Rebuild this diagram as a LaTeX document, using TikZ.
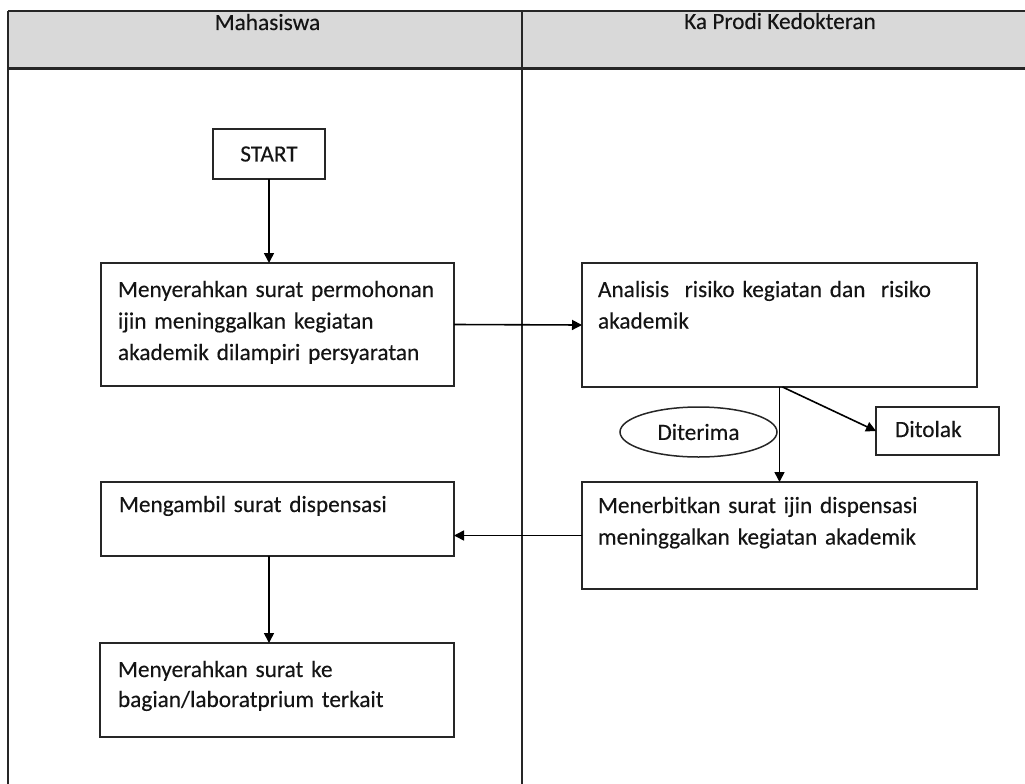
\documentclass[tikz,border=0pt]{standalone}
\usepackage{fontspec}
\setmainfont{Carlito}[UprightFeatures={FakeBold=0.25}]
\usetikzlibrary{arrows.meta,shapes.geometric}
\definecolor{rule}{HTML}{262626}
\definecolor{headfill}{HTML}{D9D9D9}
\definecolor{ink}{HTML}{141414}
\begin{document}
\begin{tikzpicture}[x=1pt,y=-1pt,
  every node/.style={inner sep=0pt, outer sep=0pt, text=ink},
  body/.style={font=\fontsize{23.3}{31.5}\selectfont},
  txt/.style={body, anchor=base west, align=left, text width=#1},
  head/.style={body, anchor=base},
  stepbox/.style={draw=rule, line width=2pt, fill=white, minimum width=#1},
  oval/.style={ellipse, draw=rule, line width=1.5pt, body},
  arr/.style={draw=black, line width=1.6pt, -{Triangle[length=10pt,width=10pt]}},
  lane/.style={draw=rule, line width=2.5pt}
]
\useasboundingbox (0,0) rectangle (1025,784);
\clip (0,0) rectangle (1025,784);

% swimlane table
\fill[headfill] (8,11) rectangle (1040,69);
\draw[lane] (8,11) -- (1040,11);
\draw[lane, line width=3pt] (8,69) -- (1040,69);
\draw[lane] (8,11) -- (8,800);
\draw[lane] (522,11) -- (522,800);
\node[head] (hmhs) at (267.5,30) {Mahasiswa};
\node[head] (hkap) at (780,29) {Ka Prodi Kedokteran};

% process boxes
\node[stepbox=112pt, minimum height=50pt, body] (start) at (269,154) {START};
\node[stepbox=353pt, minimum height=123pt] (b1) at (277.5,324.5) {};
\node[stepbox=395pt, minimum height=124pt] (b2) at (779.5,325) {};
\node[stepbox=123pt, minimum height=48pt] (tolak) at (937.5,431) {};
\node[oval, minimum width=157pt, minimum height=50pt] (terima) at (698.5,432) {Diterima};
\node[stepbox=395pt, minimum height=107pt] (b3) at (779.5,535.5) {};
\node[stepbox=353pt, minimum height=74pt] (b4) at (277.5,519) {};
\node[stepbox=354pt, minimum height=94pt] (b5) at (277,690) {};

% box texts
\node[txt=340pt] (t1) at (118,297) {Menyerahkan surat permohonan\\ijin meninggalkan kegiatan\\akademik dilampiri persyaratan};
\node[txt=370pt] (t2) at (598,297) {Analisis~ risiko kegiatan dan~ risiko\\akademik};
\node[txt=100pt] (t3) at (895,437) {Ditolak};
\node[txt=370pt] (t4) at (598,513) {Menerbitkan surat ijin dispensasi\\meninggalkan kegiatan akademik};
\node[txt=330pt] (t5) at (119,512) {Mengambil surat dispensasi};
\node[txt=330pt, font=\fontsize{23.3}{30}\selectfont] (t6) at (118,677) {Menyerahkan surat ke\\bagian/laboratprium terkait};

% connectors
\draw[arr] (start.south) -- (start.south |- b1.north);
\draw[arr] (b1.east) -- (b2.west);
\draw[arr] (b2.south) -- (b3.north);
\draw[arr] ([xshift=3pt]b2.south) -- (tolak.west);
\draw[arr] (b3.west) -- (b3.west -| b4.east);
\draw[arr] (b4.south -| start.south) -- (b5.north -| start.south);
\end{tikzpicture}
\end{document}
